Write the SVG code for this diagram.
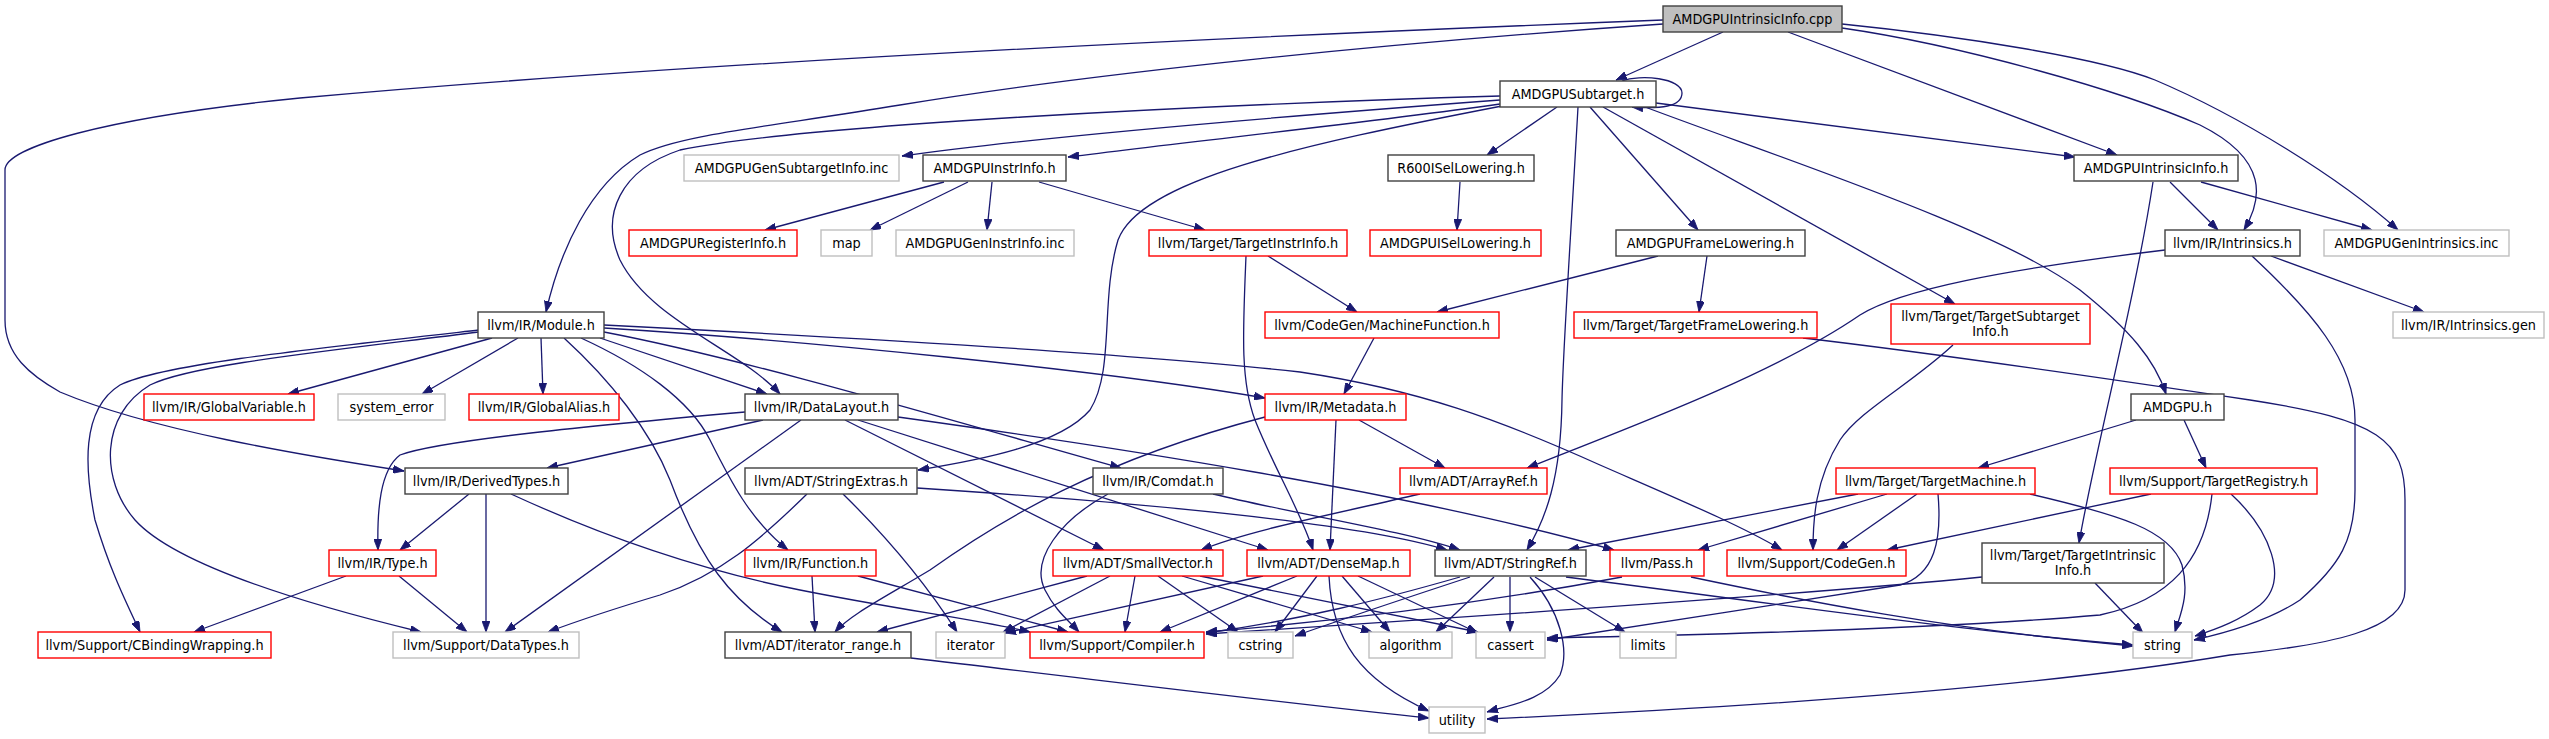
<svg xmlns="http://www.w3.org/2000/svg" width="2549" height="739" viewBox="0 0 2549 739">
<style>
.node rect{fill:#ffffff;stroke:#404040;stroke-width:1.4}
.node.r rect{stroke:#ff0000}
.node.g rect{stroke:#bfbfbf}
.node.root rect{fill:#bfbfbf;stroke:#404040}
.node text{font-family:"DejaVu Sans Condensed","DejaVu Sans",sans-serif;font-stretch:condensed;font-size:14.3px;fill:#000;text-anchor:middle}
#edges path{fill:none;stroke:#191970;stroke-width:1.3;marker-end:url(#ah)}
</style>
<defs>
<marker id="ah" markerUnits="userSpaceOnUse" markerWidth="11" markerHeight="8" refX="11" refY="4" orient="auto">
<path d="M0,0 L11,4 L0,8 z" fill="#191970" stroke="#191970" stroke-width="0.8"/>
</marker>
</defs>
<rect width="2549" height="739" fill="#ffffff"/>
<g id="edges">
<path d="M1723,32 L1616,80"/>
<path d="M1788,32 L2117,155"/>
<path d="M1842,28 C1960,45 2120,90 2200,125 C2270,160 2262,200 2244,230"/>
<path d="M1842,24 C1960,36 2100,58 2155,80 C2240,116 2340,178 2398,230"/>
<path d="M1663,24 C1400,42 1100,72 900,105 C760,128 680,135 640,155 C590,185 560,250 546,312"/>
<path d="M1663,20 C1200,38 700,62 300,98 C100,118 5,148 5,170 L5,320 C5,355 30,375 60,392 C150,430 300,455 404,471"/>
<path d="M1622,81 C1640,74 1682,78 1682,93 C1682,107 1660,109 1632,107"/>
<path d="M1500,100 C1300,115 1050,135 902,156"/>
<path d="M1500,104 C1350,125 1200,140 1068,157"/>
<path d="M1500,96 C1200,105 800,125 680,150 C620,170 600,215 620,260 C650,320 740,350 780,394"/>
<path d="M1502,106 C1300,145 1140,180 1118,240 C1100,300 1115,370 1090,410 C1060,445 980,460 918,470"/>
<path d="M1557,107 L1487,155"/>
<path d="M1578,107 C1570,250 1563,350 1562,400 C1561,480 1545,520 1527,550"/>
<path d="M1590,107 L1698,230"/>
<path d="M1603,107 L1955,304"/>
<path d="M1645,107 C1800,165 2000,230 2080,290 C2130,330 2155,360 2166,394"/>
<path d="M1656,103 L2075,157"/>
<path d="M2170,182 L2218,230"/>
<path d="M2201,182 L2372,230"/>
<path d="M2153,182 C2135,300 2095,450 2079,543"/>
<path d="M2165,250 C2000,270 1900,290 1860,315 C1780,370 1650,420 1527,468"/>
<path d="M2271,256 L2424,312"/>
<path d="M2252,256 C2310,310 2355,360 2355,420 L2355,490 C2355,540 2340,565 2300,600 C2270,620 2230,632 2194,640"/>
<path d="M944,182 L765,230"/>
<path d="M968,182 L870,230"/>
<path d="M992,182 L987,230"/>
<path d="M1039,182 L1205,230"/>
<path d="M1460,182 L1457,230"/>
<path d="M1658,256 L1437,312"/>
<path d="M1707,256 L1699,312"/>
<path d="M1268,256 L1357,312"/>
<path d="M1246,256 C1243,330 1240,380 1255,420 C1275,470 1300,510 1313,550"/>
<path d="M1374,338 L1344,394"/>
<path d="M1803,338 C1950,355 2150,385 2250,400 C2380,420 2405,440 2405,500 L2405,590 C2405,630 2330,645 2230,655 C2050,685 1800,705 1487,719"/>
<path d="M1953,345 C1910,385 1860,410 1840,440 C1815,480 1813,520 1813,550"/>
<path d="M492,338 L288,394"/>
<path d="M518,338 L422,394"/>
<path d="M541,338 L543,394"/>
<path d="M581,338 C640,365 690,400 710,440 C730,480 750,520 788,550"/>
<path d="M564,338 C610,380 650,430 670,480 C700,560 730,600 782,632"/>
<path d="M479,330 C300,350 160,365 120,385 C80,410 85,470 95,520 C110,570 125,600 140,632"/>
<path d="M479,332 C320,352 190,365 150,385 C100,415 100,480 135,520 C180,570 330,610 421,632"/>
<path d="M600,338 L767,394"/>
<path d="M604,332 C750,360 950,420 1121,468"/>
<path d="M604,328 C800,340 1100,370 1265,398"/>
<path d="M604,325 C900,340 1150,355 1300,372 C1420,390 1500,420 1600,465 C1680,500 1740,525 1782,550"/>
<path d="M745,412 C600,425 440,440 400,455 C380,470 377,510 378,550"/>
<path d="M763,420 L547,468"/>
<path d="M801,420 L505,632"/>
<path d="M845,420 L1104,550"/>
<path d="M858,420 L1268,550"/>
<path d="M898,417 C1100,445 1400,490 1614,550"/>
<path d="M807,494 C760,540 720,575 660,595 C610,610 580,620 548,632"/>
<path d="M843,494 C890,540 930,590 957,632"/>
<path d="M917,488 C1100,500 1350,520 1447,550"/>
<path d="M1108,494 C1060,520 1030,560 1045,590 C1055,610 1068,620 1079,632"/>
<path d="M1213,494 C1300,515 1400,530 1460,550"/>
<path d="M1359,420 L1445,468"/>
<path d="M1336,420 L1330,550"/>
<path d="M1265,417 C1100,460 1000,520 930,570 C880,600 850,615 835,632"/>
<path d="M1420,494 C1330,515 1250,530 1201,550"/>
<path d="M2136,420 L1978,468"/>
<path d="M2184,420 L2206,468"/>
<path d="M1858,494 L1568,550"/>
<path d="M1887,494 L1698,550"/>
<path d="M1917,494 L1837,550"/>
<path d="M1938,494 C1942,540 1935,575 1900,585 C1800,600 1650,625 1547,640"/>
<path d="M2030,494 C2120,515 2170,530 2182,565 C2190,595 2180,615 2175,632"/>
<path d="M2151,494 L1887,550"/>
<path d="M2212,494 C2205,560 2170,600 2100,615 C1950,628 1700,635 1547,638"/>
<path d="M2231,494 C2270,530 2290,580 2260,605 C2240,620 2220,628 2195,636"/>
<path d="M1982,577 C1800,595 1500,615 1206,634"/>
<path d="M2095,583 L2143,633"/>
<path d="M469,494 L400,550"/>
<path d="M486,494 L486,632"/>
<path d="M511,494 C600,535 700,570 800,590 C900,610 980,620 1030,632"/>
<path d="M346,576 L194,632"/>
<path d="M399,576 L467,632"/>
<path d="M812,576 L815,632"/>
<path d="M858,576 L1068,632"/>
<path d="M1087,576 L877,632"/>
<path d="M1110,576 L1003,632"/>
<path d="M1135,576 L1125,632"/>
<path d="M1158,576 L1238,632"/>
<path d="M1182,576 L1372,632"/>
<path d="M1200,576 L1478,632"/>
<path d="M1263,576 L1005,633"/>
<path d="M1297,576 L1160,632"/>
<path d="M1317,576 L1275,632"/>
<path d="M1342,576 L1390,632"/>
<path d="M1358,576 L1478,633"/>
<path d="M1329,576 C1332,640 1360,680 1429,711"/>
<path d="M1460,577 C1380,600 1300,620 1206,633"/>
<path d="M1470,577 C1400,600 1340,620 1295,636"/>
<path d="M1494,577 L1436,632"/>
<path d="M1510,577 L1510,632"/>
<path d="M1535,577 L1625,632"/>
<path d="M1530,577 C1560,610 1570,650 1560,675 C1545,700 1510,705 1487,712"/>
<path d="M1566,577 C1750,600 1950,630 2133,645"/>
<path d="M1622,577 C1500,600 1350,620 1206,632"/>
<path d="M1691,577 C1800,600 1950,630 2133,646"/>
<path d="M911,658 C1100,680 1300,705 1429,718"/>
</g>
<g id="n_cpp" class="node root"><rect x="1663" y="6" width="179" height="26"/><text x="1752.5" y="24">AMDGPUIntrinsicInfo.cpp</text></g>
<g id="n_subtarget" class="node"><rect x="1500" y="81" width="156" height="26"/><text x="1578" y="99">AMDGPUSubtarget.h</text></g>
<g id="n_gensubinfo" class="node g"><rect x="684" y="155" width="215" height="26"/><text x="791.5" y="173">AMDGPUGenSubtargetInfo.inc</text></g>
<g id="n_instrinfo" class="node"><rect x="923" y="155" width="143" height="26"/><text x="994.5" y="173">AMDGPUInstrInfo.h</text></g>
<g id="n_r600" class="node"><rect x="1388" y="155" width="146" height="26"/><text x="1461" y="173">R600ISelLowering.h</text></g>
<g id="n_intrinfo_h" class="node"><rect x="2074" y="155" width="164" height="26"/><text x="2156" y="173">AMDGPUIntrinsicInfo.h</text></g>
<g id="n_reginfo" class="node r"><rect x="629" y="230" width="168" height="26"/><text x="713" y="248">AMDGPURegisterInfo.h</text></g>
<g id="n_map" class="node g"><rect x="821" y="230" width="51" height="26"/><text x="846.5" y="248">map</text></g>
<g id="n_geninstr" class="node g"><rect x="896" y="230" width="178" height="26"/><text x="985" y="248">AMDGPUGenInstrInfo.inc</text></g>
<g id="n_targetinstr" class="node r"><rect x="1149" y="230" width="198" height="26"/><text x="1248" y="248">llvm/Target/TargetInstrInfo.h</text></g>
<g id="n_isel" class="node r"><rect x="1370" y="230" width="171" height="26"/><text x="1455.5" y="248">AMDGPUISelLowering.h</text></g>
<g id="n_framelow" class="node"><rect x="1616" y="230" width="189" height="26"/><text x="1710.5" y="248">AMDGPUFrameLowering.h</text></g>
<g id="n_intrinsics" class="node"><rect x="2165" y="230" width="135" height="26"/><text x="2232.5" y="248">llvm/IR/Intrinsics.h</text></g>
<g id="n_genintr" class="node g"><rect x="2324" y="230" width="185" height="26"/><text x="2416.5" y="248">AMDGPUGenIntrinsics.inc</text></g>
<g id="n_module" class="node"><rect x="478" y="312" width="126" height="26"/><text x="541" y="330">llvm/IR/Module.h</text></g>
<g id="n_machfunc" class="node r"><rect x="1265" y="312" width="234" height="26"/><text x="1382" y="330">llvm/CodeGen/MachineFunction.h</text></g>
<g id="n_tfl" class="node r"><rect x="1574" y="312" width="243" height="26"/><text x="1695.5" y="330">llvm/Target/TargetFrameLowering.h</text></g>
<g id="n_tsi" class="node r"><rect x="1891" y="304" width="199" height="40"/><text x="1990.5" y="321">llvm/Target/TargetSubtarget</text><text x="1990.5" y="336">Info.h</text></g>
<g id="n_intrgen" class="node g"><rect x="2393" y="312" width="151" height="26"/><text x="2468.5" y="330">llvm/IR/Intrinsics.gen</text></g>
<g id="n_globalvar" class="node r"><rect x="144" y="394" width="170" height="26"/><text x="229" y="412">llvm/IR/GlobalVariable.h</text></g>
<g id="n_syserr" class="node g"><rect x="338" y="394" width="107" height="26"/><text x="391.5" y="412">system_error</text></g>
<g id="n_globalalias" class="node r"><rect x="469" y="394" width="150" height="26"/><text x="544" y="412">llvm/IR/GlobalAlias.h</text></g>
<g id="n_datalayout" class="node"><rect x="745" y="394" width="153" height="26"/><text x="821.5" y="412">llvm/IR/DataLayout.h</text></g>
<g id="n_metadata" class="node r"><rect x="1265" y="394" width="141" height="26"/><text x="1335.5" y="412">llvm/IR/Metadata.h</text></g>
<g id="n_amdgpu" class="node"><rect x="2131" y="394" width="93" height="26"/><text x="2177.5" y="412">AMDGPU.h</text></g>
<g id="n_derived" class="node"><rect x="405" y="468" width="163" height="26"/><text x="486.5" y="486">llvm/IR/DerivedTypes.h</text></g>
<g id="n_strext" class="node"><rect x="745" y="468" width="172" height="26"/><text x="831" y="486">llvm/ADT/StringExtras.h</text></g>
<g id="n_comdat" class="node"><rect x="1093" y="468" width="130" height="26"/><text x="1158" y="486">llvm/IR/Comdat.h</text></g>
<g id="n_arrayref" class="node r"><rect x="1400" y="468" width="147" height="26"/><text x="1473.5" y="486">llvm/ADT/ArrayRef.h</text></g>
<g id="n_tm" class="node r"><rect x="1836" y="468" width="199" height="26"/><text x="1935.5" y="486">llvm/Target/TargetMachine.h</text></g>
<g id="n_treg" class="node r"><rect x="2110" y="468" width="207" height="26"/><text x="2213.5" y="486">llvm/Support/TargetRegistry.h</text></g>
<g id="n_type" class="node r"><rect x="329" y="550" width="107" height="26"/><text x="382.5" y="568">llvm/IR/Type.h</text></g>
<g id="n_function" class="node r"><rect x="745" y="550" width="131" height="26"/><text x="810.5" y="568">llvm/IR/Function.h</text></g>
<g id="n_smallvec" class="node r"><rect x="1053" y="550" width="170" height="26"/><text x="1138" y="568">llvm/ADT/SmallVector.h</text></g>
<g id="n_densemap" class="node r"><rect x="1247" y="550" width="163" height="26"/><text x="1328.5" y="568">llvm/ADT/DenseMap.h</text></g>
<g id="n_stringref" class="node"><rect x="1435" y="550" width="151" height="26"/><text x="1510.5" y="568">llvm/ADT/StringRef.h</text></g>
<g id="n_pass" class="node r"><rect x="1610" y="550" width="94" height="26"/><text x="1657" y="568">llvm/Pass.h</text></g>
<g id="n_codegen" class="node r"><rect x="1727" y="550" width="179" height="26"/><text x="1816.5" y="568">llvm/Support/CodeGen.h</text></g>
<g id="n_tii" class="node"><rect x="1982" y="543" width="182" height="40"/><text x="2073" y="560">llvm/Target/TargetIntrinsic</text><text x="2073" y="575">Info.h</text></g>
<g id="n_cbind" class="node r"><rect x="38" y="632" width="233" height="26"/><text x="154.5" y="650">llvm/Support/CBindingWrapping.h</text></g>
<g id="n_datatypes" class="node g"><rect x="393" y="632" width="186" height="26"/><text x="486" y="650">llvm/Support/DataTypes.h</text></g>
<g id="n_iterrange" class="node"><rect x="725" y="632" width="186" height="26"/><text x="818" y="650">llvm/ADT/iterator_range.h</text></g>
<g id="n_iterator" class="node g"><rect x="936" y="632" width="69" height="26"/><text x="970.5" y="650">iterator</text></g>
<g id="n_compiler" class="node r"><rect x="1030" y="632" width="174" height="26"/><text x="1117" y="650">llvm/Support/Compiler.h</text></g>
<g id="n_cstring" class="node g"><rect x="1228" y="632" width="65" height="26"/><text x="1260.5" y="650">cstring</text></g>
<g id="n_algorithm" class="node g"><rect x="1369" y="632" width="83" height="26"/><text x="1410.5" y="650">algorithm</text></g>
<g id="n_cassert" class="node g"><rect x="1476" y="632" width="69" height="26"/><text x="1510.5" y="650">cassert</text></g>
<g id="n_limits" class="node g"><rect x="1620" y="632" width="56" height="26"/><text x="1648" y="650">limits</text></g>
<g id="n_string" class="node g"><rect x="2133" y="632" width="59" height="26"/><text x="2162.5" y="650">string</text></g>
<g id="n_utility" class="node g"><rect x="1429" y="707" width="56" height="26"/><text x="1457" y="725">utility</text></g>
</svg>
